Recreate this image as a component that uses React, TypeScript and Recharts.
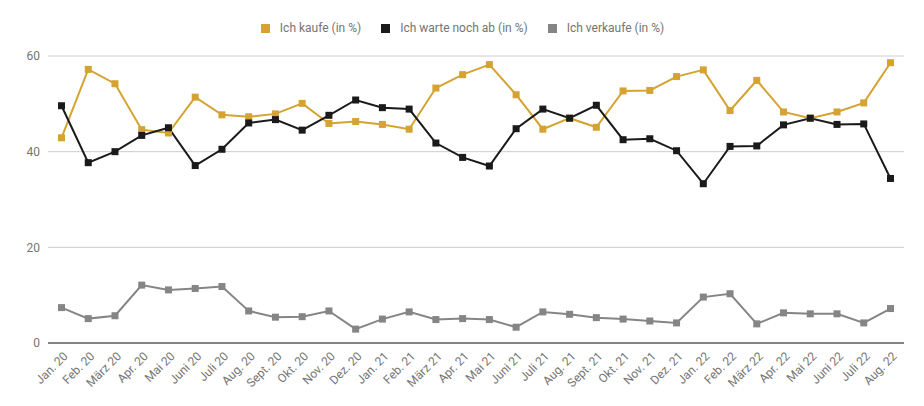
import React from 'react';
import { LineChart, Line, XAxis, YAxis, CartesianGrid, Legend } from 'recharts';

const months = [
  'Jan. 20', 'Feb. 20', 'März 20', 'Apr. 20', 'Mai 20', 'Juni 20', 'Juli 20', 'Aug. 20',
  'Sept. 20', 'Okt. 20', 'Nov. 20', 'Dez. 20', 'Jan. 21', 'Feb. 21', 'März 21', 'Apr. 21',
  'Mai 21', 'Juni 21', 'Juli 21', 'Aug. 21', 'Sept. 21', 'Okt. 21', 'Nov. 21', 'Dez. 21',
  'Jan. 22', 'Feb. 22', 'März 22', 'Apr. 22', 'Mai 22', 'Juni 22', 'Juli 22', 'Aug. 22',
];

const kaufe = [
  42.9, 57.2, 54.2, 44.6, 43.9, 51.4, 47.7, 47.3, 47.9, 50.1, 45.9, 46.3, 45.7, 44.7, 53.3, 56.1,
  58.2, 51.9, 44.7, 47.0, 45.1, 52.7, 52.8, 55.7, 57.1, 48.6, 54.9, 48.3, 47.0, 48.3, 50.2, 58.6,
];

const warte = [
  49.6, 37.7, 40.0, 43.4, 45.0, 37.1, 40.5, 46.0, 46.7, 44.5, 47.6, 50.8, 49.2, 48.9, 41.8, 38.8,
  37.0, 44.8, 48.9, 47.0, 49.7, 42.5, 42.7, 40.2, 33.3, 41.1, 41.2, 45.6, 47.0, 45.7, 45.8, 34.4,
];

const verkaufe = [
  7.4, 5.1, 5.7, 12.1, 11.1, 11.4, 11.8, 6.7, 5.4, 5.5, 6.7, 2.9, 5.0, 6.5, 4.9, 5.1,
  4.9, 3.3, 6.5, 6.0, 5.3, 5.0, 4.6, 4.2, 9.6, 10.3, 4.0, 6.3, 6.1, 6.1, 4.2, 7.2,
];

const yTicks = [0, 20, 40, 60];

const series = [
  { key: 'kaufe', name: 'Ich kaufe (in %)', color: '#d4a332' },
  { key: 'warte', name: 'Ich warte noch ab (in %)', color: '#1a1a1a' },
  { key: 'verkaufe', name: 'Ich verkaufe (in %)', color: '#858585' },
];

const data = months.map((m, i) => ({
  month: m,
  kaufe: kaufe[i],
  warte: warte[i],
  verkaufe: verkaufe[i],
}));

const FONT = 'Roboto, "Noto Sans", sans-serif';

const SquareDot = (props: any) => {
  const { cx, cy, stroke } = props;
  if (cx == null || cy == null) return null;
  return <rect x={cx - 3.5} y={cy - 3.5} width={7} height={7} fill={stroke} stroke="none" />;
};

const XTick = (props: any) => {
  const { x, y, payload } = props;
  return (
    <g transform={`translate(${x + 4},${y + 3})`}>
      <text
        x={0}
        y={0}
        dy="0.35em"
        textAnchor="end"
        transform="rotate(-45)"
        fill="#757575"
        fontSize={12}
        fontFamily={FONT}
      >
        {payload.value}
      </text>
    </g>
  );
};

// legend is drawn as plain html so the squares and gaps can be matched
const LegendContent = () => (
  <div
    style={{
      display: 'flex',
      justifyContent: 'center',
      paddingLeft: 13,
      fontFamily: FONT,
      fontSize: 12,
      color: '#757575',
    }}
  >
    {series.map((s) => (
      <div key={s.key} style={{ display: 'flex', alignItems: 'center', margin: '0 10px' }}>
        <span style={{ display: 'inline-block', width: 9, height: 9, background: s.color, marginRight: 10 }} />
        <span>{s.name}</span>
      </div>
    ))}
  </div>
);

export default function App() {
  return (
    <div style={{ width: 908, height: 398 }}>
      <LineChart width={908} height={398} data={data} margin={{ top: 8, right: 12, bottom: 0, left: 0 }}>
        <CartesianGrid vertical={false} stroke="#cccccc" />
        <XAxis
          dataKey="month"
          interval={0}
          padding={{ left: 13.5, right: 13.5 }}
          tick={<XTick />}
          tickLine={false}
          axisLine={{ stroke: '#222222' }}
          height={63}
        />
        <YAxis
          domain={[0, 60]}
          ticks={yTicks}
          width={40}
          tickLine={false}
          axisLine={false}
          tickMargin={2}
          tick={{ fill: '#757575', fontSize: 12, fontFamily: FONT }}
        />
        <Legend verticalAlign="top" align="center" height={40} content={<LegendContent />} wrapperStyle={{ top: 13 }} />
        {series.map((s) => (
          <Line
            key={s.key}
            dataKey={s.key}
            name={s.name}
            stroke={s.color}
            strokeWidth={2}
            dot={<SquareDot />}
            activeDot={false}
            isAnimationActive={false}
          />
        ))}
      </LineChart>
    </div>
  );
}
